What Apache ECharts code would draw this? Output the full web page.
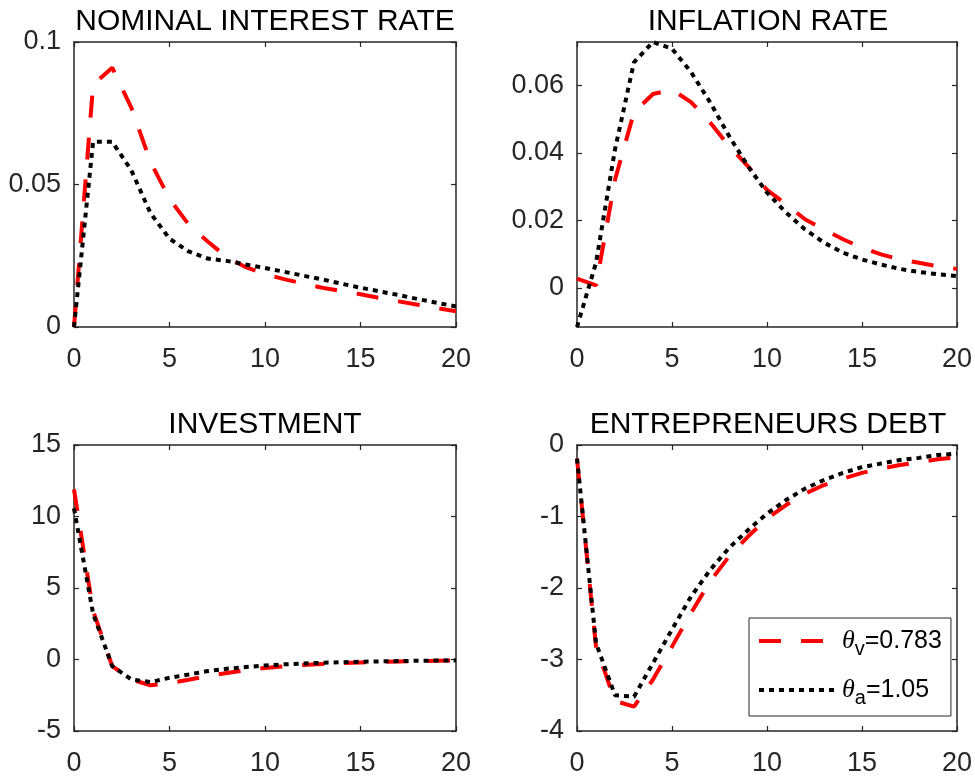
<!DOCTYPE html>
<html>
<head>
<meta charset="utf-8">
<script src="https://cdn.jsdelivr.net/npm/echarts@6/dist/echarts.min.js"></script>
<style>
  html, body { margin: 0; padding: 0; background: #ffffff; }
  #chart { width: 975px; height: 777px; }
</style>
</head>
<body>
<div id="chart"></div>
<script>
// Impulse responses over 20 periods, two calibrations
const periods = [0, 1, 2, 3, 4, 5, 6, 7, 8, 9, 10, 11, 12, 13, 14, 15, 16, 17, 18, 19, 20];

const panelTitles = ['NOMINAL INTEREST RATE', 'INFLATION RATE', 'INVESTMENT', 'ENTREPRENEURS DEBT'];

// calibration labels: theta subscript and value
const thetaSubs = ['v', 'a'];
const thetaValues = ['0.783', '1.05'];

// nominal interest rate
const rateV = [0, 0.085, 0.091, 0.077, 0.058, 0.045, 0.036, 0.030, 0.0245, 0.021, 0.0185, 0.0168, 0.0152, 0.0138, 0.0126, 0.0115, 0.0102, 0.0090, 0.0078, 0.0066, 0.0055];
const rateA = [0, 0.065, 0.065, 0.055, 0.040, 0.031, 0.0265, 0.024, 0.0232, 0.0219, 0.0207, 0.0194, 0.0180, 0.0167, 0.0152, 0.0138, 0.0125, 0.0112, 0.0098, 0.0085, 0.0072];

// inflation rate
const inflV = [0.0027, 0.0007, 0.032, 0.052, 0.0574, 0.0587, 0.055, 0.049, 0.042, 0.036, 0.029, 0.0248, 0.0203, 0.0173, 0.0144, 0.0119, 0.0099, 0.0084, 0.0074, 0.0064, 0.0056];
const inflA = [-0.0116, 0.0074, 0.041, 0.0668, 0.0728, 0.0708, 0.0639, 0.055, 0.045, 0.036, 0.0282, 0.0223, 0.0173, 0.0134, 0.0104, 0.0084, 0.0069, 0.0056, 0.0047, 0.0040, 0.0035];

// investment
const invV = [11.9, 3.4, -0.46, -1.4, -1.8, -1.65, -1.42, -1.15, -0.95, -0.75, -0.6, -0.48, -0.39, -0.32, -0.26, -0.21, -0.17, -0.14, -0.11, -0.09, -0.07];
const invA = [10.57, 3.2, -0.46, -1.39, -1.58, -1.28, -1.05, -0.81, -0.65, -0.53, -0.42, -0.34, -0.28, -0.23, -0.19, -0.16, -0.13, -0.11, -0.09, -0.07, -0.06];

// entrepreneurs debt
const debtV = [-0.19, -2.82, -3.58, -3.66, -3.28, -2.82, -2.35, -1.91, -1.56, -1.28, -1.03, -0.84, -0.68, -0.56, -0.47, -0.39, -0.33, -0.28, -0.24, -0.20, -0.17];
const debtA = [-0.19, -2.77, -3.50, -3.52, -3.05, -2.58, -2.12, -1.75, -1.44, -1.19, -0.96, -0.77, -0.61, -0.49, -0.39, -0.31, -0.26, -0.21, -0.18, -0.14, -0.12];

// axis ticks
const xTicks = [0, 5, 10, 15, 20];
const rateTicks = [0, 0.05, 0.1];
const inflTicks = [0, 0.02, 0.04, 0.06];
const invTicks = [-5, 0, 5, 10, 15];
const debtTicks = [-4, -3, -2, -1, 0];

const seriesV = [rateV, inflV, invV, debtV];
const seriesA = [rateA, inflA, invA, debtA];
const yTicks = [rateTicks, inflTicks, invTicks, debtTicks];
// y ranges: fixed where the axis uses round limits, tight to the data for inflation
const yRanges = [
  [0, 0.1],
  [Math.min(...inflV, ...inflA), Math.max(...inflV, ...inflA)],
  [-5, 15],
  [-4, 0]
];

const FONT = "'Liberation Sans', Arial, Helvetica, sans-serif";
const AX = '#262626';

const boxes = [
  { left: 74, top: 42, width: 382, height: 285 },
  { left: 577, top: 42, width: 382, height: 285 },
  { left: 74, top: 445, width: 382, height: 287 },
  { left: 577, top: 445, width: 382, height: 287 }
];

const nameV = 'θ' + thetaSubs[0] + '=' + thetaValues[0];
const nameA = 'θ' + thetaSubs[1] + '=' + thetaValues[1];

const axisLine = { show: true, onZero: false, lineStyle: { color: AX, width: 1.5 } };
const fmt = v => String(+(+v).toFixed(4));

const grid = [], xAxis = [], yAxis = [], series = [], title = [];

boxes.forEach((b, i) => {
  grid.push(Object.assign({ containLabel: false }, b));
  title.push({
    text: panelTitles[i],
    left: b.left + b.width / 2,
    top: i < 2 ? 7 : 410,
    textAlign: 'center',
    padding: 0,
    textStyle: { fontFamily: FONT, fontSize: 30, fontWeight: 'normal', color: '#000' }
  });
  // bottom and top x axes
  [['bottom', true], ['top', false]].forEach(([pos, lab]) => {
    xAxis.push({
      type: 'value', gridIndex: i, position: pos, min: 0, max: 20, interval: 5,
      axisLine: axisLine,
      axisTick: { show: true, inside: true, length: 5, lineStyle: { color: AX, width: 1.2 }, customValues: xTicks },
      axisLabel: { show: lab, fontFamily: FONT, fontSize: 27, color: AX, margin: 19, formatter: fmt,
                   customValues: xTicks },
      splitLine: { show: false }
    });
  });
  // left and right y axes
  [['left', true], ['right', false]].forEach(([pos, lab]) => {
    yAxis.push({
      type: 'value', gridIndex: i, position: pos, min: yRanges[i][0], max: yRanges[i][1],
      axisLine: axisLine,
      axisTick: { show: true, inside: true, length: 5, lineStyle: { color: AX, width: 1.2 }, customValues: yTicks[i] },
      axisLabel: { show: lab, fontFamily: FONT, fontSize: 27, color: AX, margin: 13, formatter: fmt,
                   customValues: yTicks[i] },
      splitLine: { show: false }
    });
  });
  series.push({
    type: 'line', name: nameV, xAxisIndex: 2 * i, yAxisIndex: 2 * i,
    data: periods.map((p, k) => [p, seriesV[i][k]]),
    symbol: 'none', clip: false, z: 2,
    lineStyle: { color: '#ff0000', width: 4, type: [22, 20], cap: 'butt' },
    itemStyle: { color: '#ff0000' }
  });
  series.push({
    type: 'line', name: nameA, xAxisIndex: 2 * i, yAxisIndex: 2 * i,
    data: periods.map((p, k) => [p, seriesA[i][k]]),
    symbol: 'none', clip: false, z: 3,
    lineStyle: { color: '#000000', width: 4, type: [5, 5], cap: 'butt' },
    itemStyle: { color: '#000000' }
  });
});

const chart = echarts.init(document.getElementById('chart'), null, { renderer: 'canvas' });
chart.setOption({
  animation: false,
  backgroundColor: '#ffffff',
  title: title,
  grid: grid,
  xAxis: xAxis,
  yAxis: yAxis,
  series: series,
  legend: {
    data: [nameV, nameA],
    orient: 'vertical',
    left: 749, top: 618,
    padding: [10, 9, 8, 8],
    itemGap: 18,
    itemWidth: 78, itemHeight: 24,
    selectedMode: false,
    backgroundColor: '#ffffff',
    borderColor: AX, borderWidth: 1,
    lineStyle: { width: 4 },
    itemStyle: { color: 'transparent', borderWidth: 0, opacity: 0 },
    formatter: name => {
      const k = name === nameV ? 0 : 1;
      return '{g|θ}{s|' + thetaSubs[k] + '}{n|=' + thetaValues[k] + '}';
    },
    textStyle: {
      fontFamily: FONT, fontSize: 25, color: '#000',
      rich: {
        g: { fontFamily: "'Liberation Serif', 'DejaVu Serif', serif", fontStyle: 'italic', fontSize: 26, color: '#000' },
        s: { fontFamily: FONT, fontSize: 20, color: '#000', padding: [16, 0, 0, 0] },
        n: { fontFamily: FONT, fontSize: 25, color: '#000' }
      }
    }
  }
});
</script>
</body>
</html>
